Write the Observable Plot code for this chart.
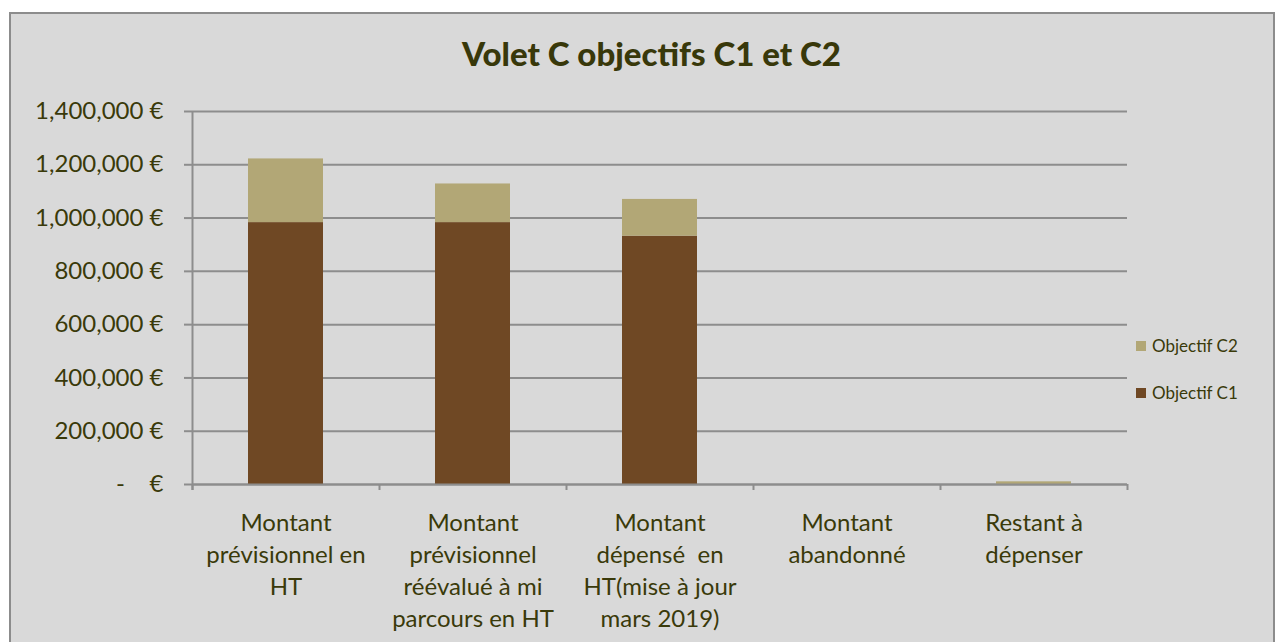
<!DOCTYPE html>
<html>
<head>
<meta charset="utf-8">
<script src="https://cdn.jsdelivr.net/npm/d3@7"></script>
<script src="https://cdn.jsdelivr.net/npm/@observablehq/plot@0.6"></script>
<style>
  body { margin: 0; background: #ffffff; font-family: Lato, "Open Sans", sans-serif; }
  #frame { position: absolute; left: 9px; top: 12px; width: 1262px; height: 640px; background: #d9d9d9; border: 2px solid #8c8c8c; }
  #chart { position: absolute; left: 0; top: 0; }
  #title { position: absolute; left: 0; width: 1303px; top: 37px; text-align: center; font-family: Lato, sans-serif; font-weight: 900; font-size: 33px; line-height: 33px; color: #38380a; white-space: nowrap; }
  .lg-sw { position: absolute; width: 10px; height: 10px; }
  .lg-tx { position: absolute; font-family: Lato, sans-serif; font-size: 17px; line-height: 17px; color: #3a3a0a; white-space: nowrap; }
</style>
</head>
<body>
<div id="frame"><div id="chart"></div></div>
<div id="title">Volet C objectifs C1 et C2</div>
<div id="legend"></div>
<script>
// ---- data ----
const categories = [
  "Montant\nprévisionnel en\nHT",
  "Montant\nprévisionnel\nréévalué à mi\nparcours en HT",
  "Montant\ndépensé  en\nHT(mise à jour\nmars 2019)",
  "Montant\nabandonné",
  "Restant à\ndépenser"
];
const series = ["Objectif C1", "Objectif C2"];
const objectifC1 = [983000, 983000, 932000, 0, 0];
const objectifC2 = [239000, 145000, 138000, 0, 10000];
const yTicks = [0, 200000, 400000, 600000, 800000, 1000000, 1200000, 1400000];
const colors = ["#6f4824", "#b2a776"];

const textColor = "#3a3a0a";
const gridColor = "#8d8d8d";

const values = [objectifC1, objectifC2];
const data = [];
series.forEach((s, j) => categories.forEach((c, i) => data.push({cat: c, series: s, value: values[j][i]})));

const fmt = d => d === 0 ? "-\u00a0\u00a0\u00a0\u00a0€" : d3.format(",")(d) + " €";

const W = 1262, H = 626, mL = 181, mR = 146, mT = 97, mB = 156;
const step = (W - mL - mR) / categories.length;

const plot = Plot.plot({
  width: W, height: H,
  marginLeft: mL, marginRight: mR, marginTop: mT, marginBottom: mB,
  style: {background: "transparent", fontFamily: "Lato, sans-serif", color: textColor, overflow: "visible"},
  x: {domain: categories, paddingInner: 0.6, paddingOuter: 0.3, axis: null},
  y: {domain: [0, 1400000], axis: null},
  color: {domain: series, range: colors},
  marks: [
    Plot.gridY(yTicks, {stroke: gridColor, strokeOpacity: 1, strokeWidth: 2}),
    Plot.barY(data, {x: "cat", y: "value", fill: "series"}),
    Plot.ruleY([0], {stroke: gridColor, strokeWidth: 2}),
    Plot.axisY(yTicks, {tickSize: 8, tickPadding: 21, tickFormat: fmt, fontSize: 24, stroke: gridColor, strokeWidth: 2, fill: textColor, label: null}),
    Plot.ruleX([categories[0]], {x: d => d, dx: -step / 2, y1: 1400000, y2: 0, insetBottom: -6, stroke: gridColor, strokeWidth: 2}),
    Plot.ruleX(categories, {x: d => d, dx: -step / 2, y1: 0, y2: 0, insetBottom: -6, stroke: gridColor, strokeWidth: 2}),
    Plot.ruleX([categories[categories.length - 1]], {x: d => d, dx: step / 2, y1: 0, y2: 0, insetBottom: -6, stroke: gridColor, strokeWidth: 2}),
    Plot.text(categories, {x: d => d, text: d => d, frameAnchor: "bottom", lineAnchor: "top", dy: 24, fontSize: 24, lineHeight: 1.333, fill: textColor})
  ]
});
document.getElementById("chart").appendChild(plot);

// legend
const legend = document.getElementById("legend");
const legendItems = [{name: series[1], color: colors[1], y: 341}, {name: series[0], color: colors[0], y: 388}];
legendItems.forEach(it => {
  const sw = document.createElement("div");
  sw.className = "lg-sw";
  sw.style.left = "1136px"; sw.style.top = it.y + "px"; sw.style.background = it.color;
  const tx = document.createElement("div");
  tx.className = "lg-tx";
  tx.style.left = "1152px"; tx.style.top = (it.y - 4) + "px";
  tx.textContent = it.name;
  legend.appendChild(sw); legend.appendChild(tx);
});
</script>
</body>
</html>
